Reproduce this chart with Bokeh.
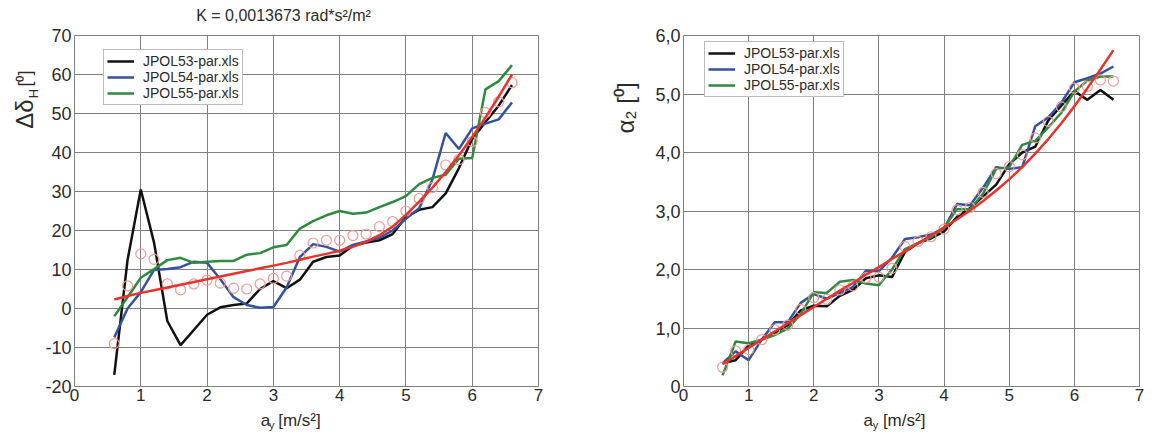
import math
from bokeh.plotting import figure
from bokeh.layouts import row, column
from bokeh.models import FixedTicker, Legend, LegendItem, Range1d
from bokeh.core.properties import value
from bokeh.embed import file_html
from bokeh.resources import INLINE

# ---------------- data ----------------
ay = [0.6, 0.8, 1.0, 1.2, 1.4, 1.6, 1.8, 2.0, 2.2, 2.4, 2.6, 2.8, 3.0, 3.2, 3.4, 3.6,
      3.8, 4.0, 4.2, 4.4, 4.6, 4.8, 5.0, 5.2, 5.4, 5.6, 5.8, 6.0, 6.2, 6.4, 6.6]

series_names = ["JPOL53-par.xls", "JPOL54-par.xls", "JPOL55-par.xls"]

# left chart: delta delta_H [deg]
dH_53 = [-17.0, 12.4, 30.5, 16.9, -3.2, -9.4, -5.5, -1.6, 0.3, 0.9, 1.3, 5.0, 7.0, 5.2, 7.4, 12.0,
         13.2, 13.6, 16.1, 16.9, 17.5, 19.1, 23.5, 25.3, 26.0, 29.5, 36.0, 43.5, 47.8, 52.0, 57.3]
dH_54 = [-7.4, 0.0, 4.2, 9.9, 10.1, 10.6, 12.0, 11.7, 7.5, 2.9, 0.9, 0.2, 0.4, 5.4, 13.2, 16.5,
         15.8, 14.6, 16.3, 17.2, 18.1, 20.0, 23.0, 25.7, 33.1, 45.0, 40.9, 46.2, 47.4, 48.5, 52.8]
dH_55 = [-2.0, 2.9, 7.9, 10.1, 12.4, 13.0, 11.7, 12.0, 12.2, 12.2, 13.8, 14.2, 15.7, 16.3, 20.5, 22.4,
         23.9, 25.0, 24.3, 24.6, 26.0, 27.3, 28.8, 31.9, 33.5, 34.3, 38.4, 38.6, 56.2, 58.3, 62.4]
dH_mean = [-9.0, 5.8, 14.0, 12.6, 6.3, 4.8, 6.3, 7.3, 6.5, 5.2, 5.0, 6.3, 7.7, 8.3, 13.6, 16.8,
           17.5, 17.5, 18.7, 19.1, 21.0, 22.3, 25.0, 28.2, 31.0, 36.8, 38.2, 42.8, 50.2, 53.0, 57.9]
dH_fit = [2.3, 3.2, 4.0, 4.7, 5.4, 6.1, 6.8, 7.5, 8.2, 8.9, 9.6, 10.3, 11.0, 11.7, 12.5, 13.3,
          14.0, 14.8, 15.8, 17.1, 18.8, 21.0, 24.0, 27.4, 31.0, 35.0, 39.3, 44.0, 49.0, 54.3, 60.0]

# right chart: alpha_2 [deg]
a2_53 = [0.40, 0.45, 0.70, 0.80, 0.92, 1.05, 1.30, 1.38, 1.37, 1.55, 1.65, 1.85, 1.90, 1.87, 2.30, 2.45,
         2.53, 2.65, 2.90, 3.05, 3.25, 3.45, 3.80, 4.00, 4.10, 4.55, 4.80, 5.05, 4.90, 5.07, 4.90]
a2_54 = [0.40, 0.60, 0.45, 0.80, 1.10, 1.10, 1.43, 1.58, 1.50, 1.60, 1.70, 1.98, 1.97, 2.20, 2.52, 2.55,
         2.60, 2.70, 3.12, 3.10, 3.40, 3.75, 3.72, 3.75, 4.45, 4.60, 4.85, 5.20, 5.27, 5.35, 5.47]
a2_55 = [0.19, 0.77, 0.74, 0.80, 0.88, 0.99, 1.24, 1.61, 1.60, 1.79, 1.82, 1.76, 1.73, 2.00, 2.35, 2.45,
         2.55, 2.72, 3.03, 3.03, 3.30, 3.72, 3.75, 4.13, 4.20, 4.43, 4.68, 5.04, 5.23, 5.30, 5.30]
a2_mean = [0.33, 0.61, 0.63, 0.80, 0.97, 1.05, 1.32, 1.52, 1.49, 1.65, 1.72, 1.86, 1.87, 2.02, 2.39, 2.48,
           2.56, 2.69, 3.02, 3.06, 3.32, 3.64, 3.76, 3.96, 4.25, 4.53, 4.78, 5.10, 5.13, 5.24, 5.22]
a2_fit = [0.38, 0.52, 0.66, 0.80, 0.94, 1.08, 1.22, 1.36, 1.50, 1.64, 1.77, 1.91, 2.04, 2.18, 2.31, 2.45,
          2.58, 2.72, 2.86, 3.01, 3.17, 3.35, 3.54, 3.75, 3.98, 4.23, 4.50, 4.79, 5.10, 5.42, 5.75]

x_ticks = [0, 1, 2, 3, 4, 5, 6, 7]
left_y_ticks = [-20, -10, 0, 10, 20, 30, 40, 50, 60, 70]
left_y_labels = ["-20", "-10", "0", "10", "20", "30", "40", "50", "60", "70"]
right_y_ticks = [0, 1, 2, 3, 4, 5, 6]
right_y_labels = ["0", "1,0", "2,0", "3,0", "4,0", "5,0", "6,0"]

title_text = "K = 0,0013673 rad*s\u00b2/m\u00b2"
x_title_main = "a"
x_title_sub = "y"
x_title_unit = "[m/s\u00b2]"
yl_main, yl_sub, yl_unit = "\u0394\u03b4", "H", "[\u2070]"
yr_text = "\u03b1\u2082 [\u2070]"

# ---------------- styles / layout ----------------
FONT = "Liberation Sans"
TXT = "#2b2b2b"
GRID = "#808080"
C53, C54, C55 = "#111111", "#34529f", "#2e8b3e"
CFIT = "#e8322b"
CMEAN = "#f29a94"
LW = 2.5

TOTAL_W, TOTAL_H = 1146, 432
FRAME_TOP = 35
FRAME_H = 351
BOT_B = 21                 # x tick label area
TITLE_H = 25               # helper strip holding the chart title (left chart)
XLAB_H = TOTAL_H - FRAME_TOP - FRAME_H - BOT_B
LEFT_W = 600


def main_fig(width, height, yr, yticks, ylabels, bl, br, bt):
    p = figure(width=width, height=height, x_range=Range1d(0, 7), y_range=Range1d(*yr),
               toolbar_location=None, output_backend="svg",
               min_border_left=bl, min_border_right=br, min_border_top=bt, min_border_bottom=BOT_B)
    p.background_fill_color = "white"
    p.border_fill_color = "white"
    p.outline_line_color = GRID
    p.outline_line_width = 1
    p.xaxis.ticker = FixedTicker(ticks=x_ticks)
    p.yaxis.ticker = FixedTicker(ticks=yticks)
    p.yaxis.major_label_overrides = {t: l for t, l in zip(yticks, ylabels)}
    for ax in (p.xaxis, p.yaxis):
        ax.axis_line_color = None
        ax.major_tick_line_color = None
        ax.minor_tick_line_color = None
        ax.major_tick_out = 0
        ax.major_tick_in = 0
        ax.minor_tick_out = 0
        ax.major_label_text_font = FONT
        ax.major_label_text_color = TXT
    p.xaxis.major_label_text_font_size = "17px"
    p.yaxis.major_label_text_font_size = "18px"
    p.xaxis.major_label_standoff = 2
    p.yaxis.major_label_standoff = 3
    p.xgrid.ticker = FixedTicker(ticks=x_ticks)
    p.ygrid.ticker = FixedTicker(ticks=yticks)
    for g in (p.xgrid, p.ygrid):
        g.grid_line_color = GRID
        g.grid_line_width = 1
    return p


def text_fig(w, h):
    f = figure(width=w, height=h, x_range=Range1d(0, w), y_range=Range1d(h, 0),
               toolbar_location=None, output_backend="svg", x_axis_type=None, y_axis_type=None,
               min_border=0, min_border_left=0, min_border_right=0,
               min_border_top=0, min_border_bottom=0)
    f.outline_line_color = None
    f.background_fill_color = "white"
    f.border_fill_color = "white"
    return f


def put(f, txt, x, y, size, angle=0.0, align="left"):
    # y is the vertical middle of the text box
    f.text(x=[x], y=[y], text=[txt], text_font=value(FONT), text_font_size=value(f"{size}px"),
           text_color=TXT, angle=angle, text_align=align, text_baseline="middle")


def add_series(p, s53, s54, s55, smean, sfit, loc):
    r1 = p.line(ay, s53, line_color=C53, line_width=LW)
    r2 = p.line(ay, s54, line_color=C54, line_width=LW)
    r3 = p.line(ay, s55, line_color=C55, line_width=LW)
    p.scatter(ay, smean, marker="circle", size=10, fill_color=None, line_color=CMEAN, line_width=1.2)
    p.line(ay, sfit, line_color=CFIT, line_width=LW)
    leg = Legend(items=[LegendItem(label=n, renderers=[r]) for n, r in zip(series_names, [r1, r2, r3])],
                 location=loc)
    leg.label_text_font = FONT
    leg.label_text_font_size = "14px"
    leg.label_text_color = TXT
    leg.glyph_width = 27
    leg.glyph_height = 16
    leg.label_height = 16
    leg.label_standoff = 9
    leg.spacing = -2
    leg.padding = 3
    leg.margin = 0
    leg.border_line_color = "#777777"
    leg.border_line_width = 1
    leg.background_fill_color = "white"
    leg.background_fill_alpha = 1.0
    p.add_layout(leg, "center")


# ---------------- left chart ----------------
YL_W = 42
L_W = LEFT_W - YL_W
L_FRAME_W = 466
mainL = main_fig(L_W, (FRAME_TOP - TITLE_H) + FRAME_H + BOT_B, (-20, 70), left_y_ticks, left_y_labels,
                 30, L_W - 30 - L_FRAME_W, FRAME_TOP - TITLE_H)
add_series(mainL, dH_53, dH_54, dH_55, dH_mean, dH_fit, (29, 281))

titleL = text_fig(L_W, TITLE_H)
put(titleL, title_text, 251.4, 14.5, 16, align="center")

xlabL = text_fig(L_W, XLAB_H)
put(xlabL, x_title_main, 224, 12.5, 17)
put(xlabL, x_title_sub, 234, 17.5, 11)
put(xlabL, x_title_unit, 245, 12.5, 17)

ylabL = text_fig(YL_W, TOTAL_H)
put(ylabL, yl_main, 24, 113.5, 24, angle=math.pi / 2, align="center")
put(ylabL, yl_sub, 33, 93, 13, angle=math.pi / 2, align="center")
put(ylabL, yl_unit, 24, 78, 18, angle=math.pi / 2, align="center")

left_block = row(ylabL, column(titleL, mainL, xlabL))

# ---------------- right chart ----------------
YR_W = 52
R_W = TOTAL_W - LEFT_W - YR_W
R_FRAME_W = 457
mainR = main_fig(R_W, FRAME_TOP + FRAME_H + BOT_B, (0, 6), right_y_ticks, right_y_labels,
                 30, R_W - 30 - R_FRAME_W, FRAME_TOP)
add_series(mainR, a2_53, a2_54, a2_55, a2_mean, a2_fit, (21, 289))

xlabR = text_fig(R_W, XLAB_H)
put(xlabR, x_title_main, 195, 12.5, 17)
put(xlabR, x_title_sub, 205, 17.5, 11)
put(xlabR, x_title_unit, 216, 12.5, 17)

ylabR = text_fig(YR_W, TOTAL_H)
put(ylabR, yr_text, 25, 107.5, 24, angle=math.pi / 2, align="center")

right_block = row(ylabR, column(mainR, xlabR))

layout = row(left_block, right_block)
open("out.html", "w").write(file_html(layout, INLINE))
